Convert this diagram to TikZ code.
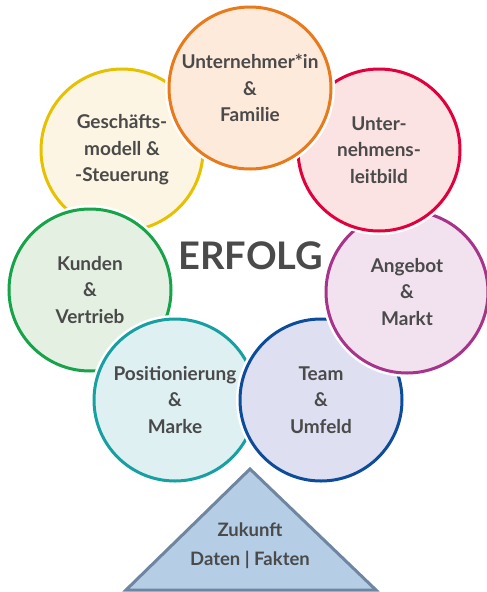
\documentclass[tikz,border=0pt]{standalone}
\usepackage{fontspec}
\setmainfont{Lato}[UprightFont=* Bold]
\definecolor{txt}{HTML}{4A4A4A}
\definecolor{cOr}{HTML}{E97A1B}\definecolor{fOr}{HTML}{FDEADB}
\definecolor{cRe}{HTML}{E2003C}\definecolor{fRe}{HTML}{FBE2E3}
\definecolor{cMa}{HTML}{A7338B}\definecolor{fMa}{HTML}{F2E2F0}
\definecolor{cBl}{HTML}{0C4C9B}\definecolor{fBl}{HTML}{DEE0F1}
\definecolor{cTe}{HTML}{17A0A1}\definecolor{fTe}{HTML}{DEF0F2}
\definecolor{cGr}{HTML}{16A34A}\definecolor{fGr}{HTML}{E4F0E2}
\definecolor{cYe}{HTML}{E7C100}\definecolor{fYe}{HTML}{FDF5E3}
\definecolor{tStroke}{HTML}{6F86A0}\definecolor{tFill}{HTML}{B5CEE6}
\begin{document}
\begin{tikzpicture}[x=1pt,y=-1pt,
  circ/.style={circle, minimum size=162pt, inner sep=0pt, line width=3pt,
    preaction={draw=white, line width=8pt}, text=txt, align=center,
    font=\fontsize{19}{26.5}\selectfont},
  lbl/.style={text=txt, align=center, font=\fontsize{18.5}{29}\selectfont}]
\useasboundingbox (0,0) rectangle (487,592);
\fill[white] (0,0) rectangle (487,592);
\node[circ, draw=cYe, fill=fYe] (geschaeft) at (122,150) {Geschäfts-\\modell \&\\-Steuerung};
\node[circ, draw=cGr, fill=fGr] (kunden) at (90,290) {Kunden\\\&\\Vertrieb};
\node[circ, draw=cTe, fill=fTe] (position) at (175,400) {Positionierung\\\&\\Marke};
\node[circ, draw=cBl, fill=fBl] (team) at (321,400) {Team\\\&\\Umfeld};
\node[circ, draw=cMa, fill=fMa] (angebot) at (407,292) {Angebot\\\&\\Markt};
\node[circ, draw=cRe, fill=fRe] (leitbild) at (379,150) {Unter-\\nehmens-\\leitbild};
\node[circ, draw=cOr, fill=fOr] (familie) at (250,88) {Unternehmer*in\\\&\\Familie};
\node[text=txt, font=\fontsize{38}{40}\selectfont] (erfolg) at (251,256) {ERFOLG};
\coordinate (apex) at (250,469);
\coordinate (bl) at (126,590);
\coordinate (br) at (376,590);
\filldraw[fill=tFill, draw=tStroke, line width=3pt, line join=miter] (apex) -- (br) -- (bl) -- cycle;
\node[lbl] (zukunft) at (250,546) {Zukunft\\Daten | Fakten};
\end{tikzpicture}
\end{document}
